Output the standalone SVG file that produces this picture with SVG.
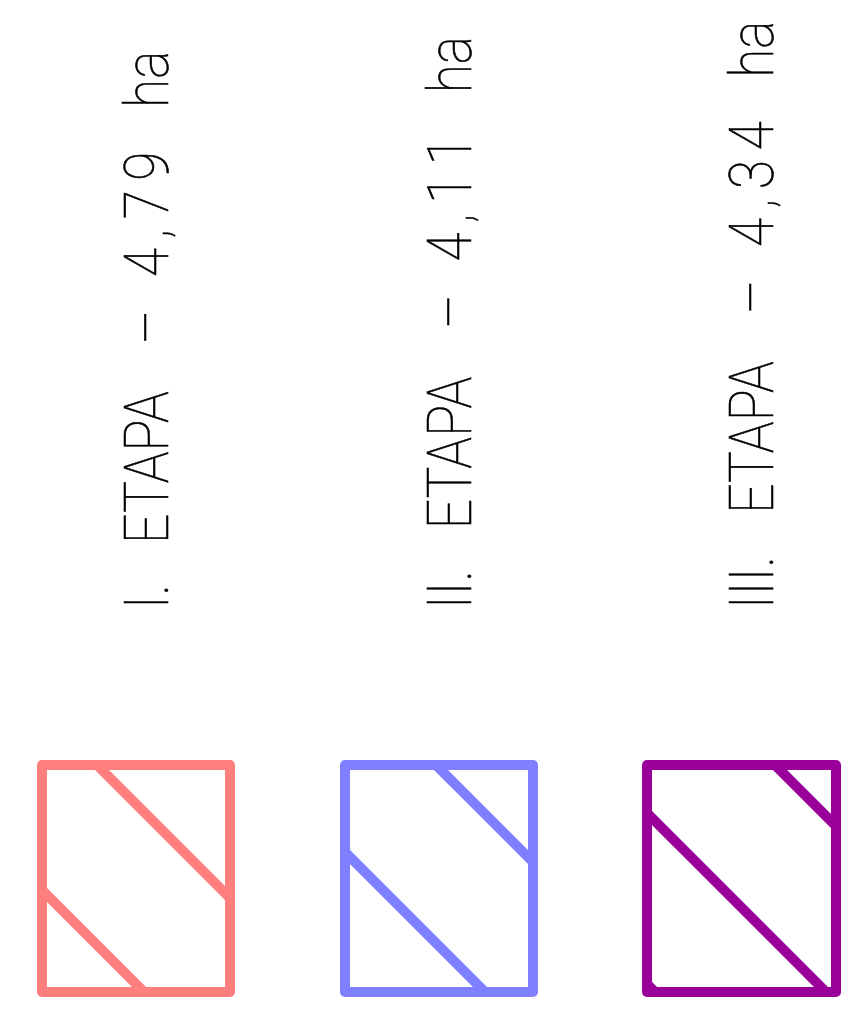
<svg xmlns="http://www.w3.org/2000/svg" width="855" height="1019" viewBox="0 0 855 1019">
<style>
.lbl{font-family:Roboto,Inter,"Liberation Sans",sans-serif;font-weight:100;font-size:62px;fill:#000;stroke:#000;stroke-width:0.6}
.num{letter-spacing:11px}
.sym{fill:none;stroke-width:10;stroke-linecap:round;stroke-linejoin:round}
.s1{stroke:#FF7F7F}.s2{stroke:#7F7FFF}.s3{stroke:#990099}
</style>
<rect width="855" height="1019" fill="#fff"/>
<g id="etapa1">
<text class="lbl" transform="translate(168,605) rotate(-90) scale(0.86,1)"><tspan x="-5">I.</tspan> <tspan x="71">ETAPA</tspan> <tspan x="303">–</tspan> <tspan x="381" class="num">4,79</tspan> <tspan x="578">ha</tspan></text>
<g class="sym s1">
<rect x="42" y="765" width="188" height="227"/>
<line x1="97" y1="765" x2="230" y2="898"/>
<line x1="42" y1="890" x2="144" y2="992"/>
</g>
</g>
<g id="etapa2">
<text class="lbl" transform="translate(471,605) rotate(-90) scale(0.86,1)"><tspan x="-5">II.</tspan> <tspan x="88">ETAPA</tspan> <tspan x="321">–</tspan> <tspan x="399" class="num">4,11</tspan> <tspan x="595">ha</tspan></text>
<g class="sym s2">
<rect x="345" y="765" width="188" height="227"/>
<line x1="436" y1="765" x2="533" y2="862"/>
<line x1="345" y1="852" x2="485" y2="992"/>
</g>
</g>
<g id="etapa3">
<text class="lbl" transform="translate(773,605) rotate(-90) scale(0.86,1)"><tspan x="-5">III.</tspan> <tspan x="106">ETAPA</tspan> <tspan x="338">–</tspan> <tspan x="416" class="num">4,34</tspan> <tspan x="613">ha</tspan></text>
<g class="sym s3">
<rect x="647" y="765" width="189" height="227"/>
<line x1="775" y1="765" x2="836" y2="826"/>
<line x1="647" y1="813" x2="826" y2="992"/>
<line x1="647" y1="984" x2="655" y2="992"/>
</g>
</g>
<g id="connectors"></g>
</svg>
